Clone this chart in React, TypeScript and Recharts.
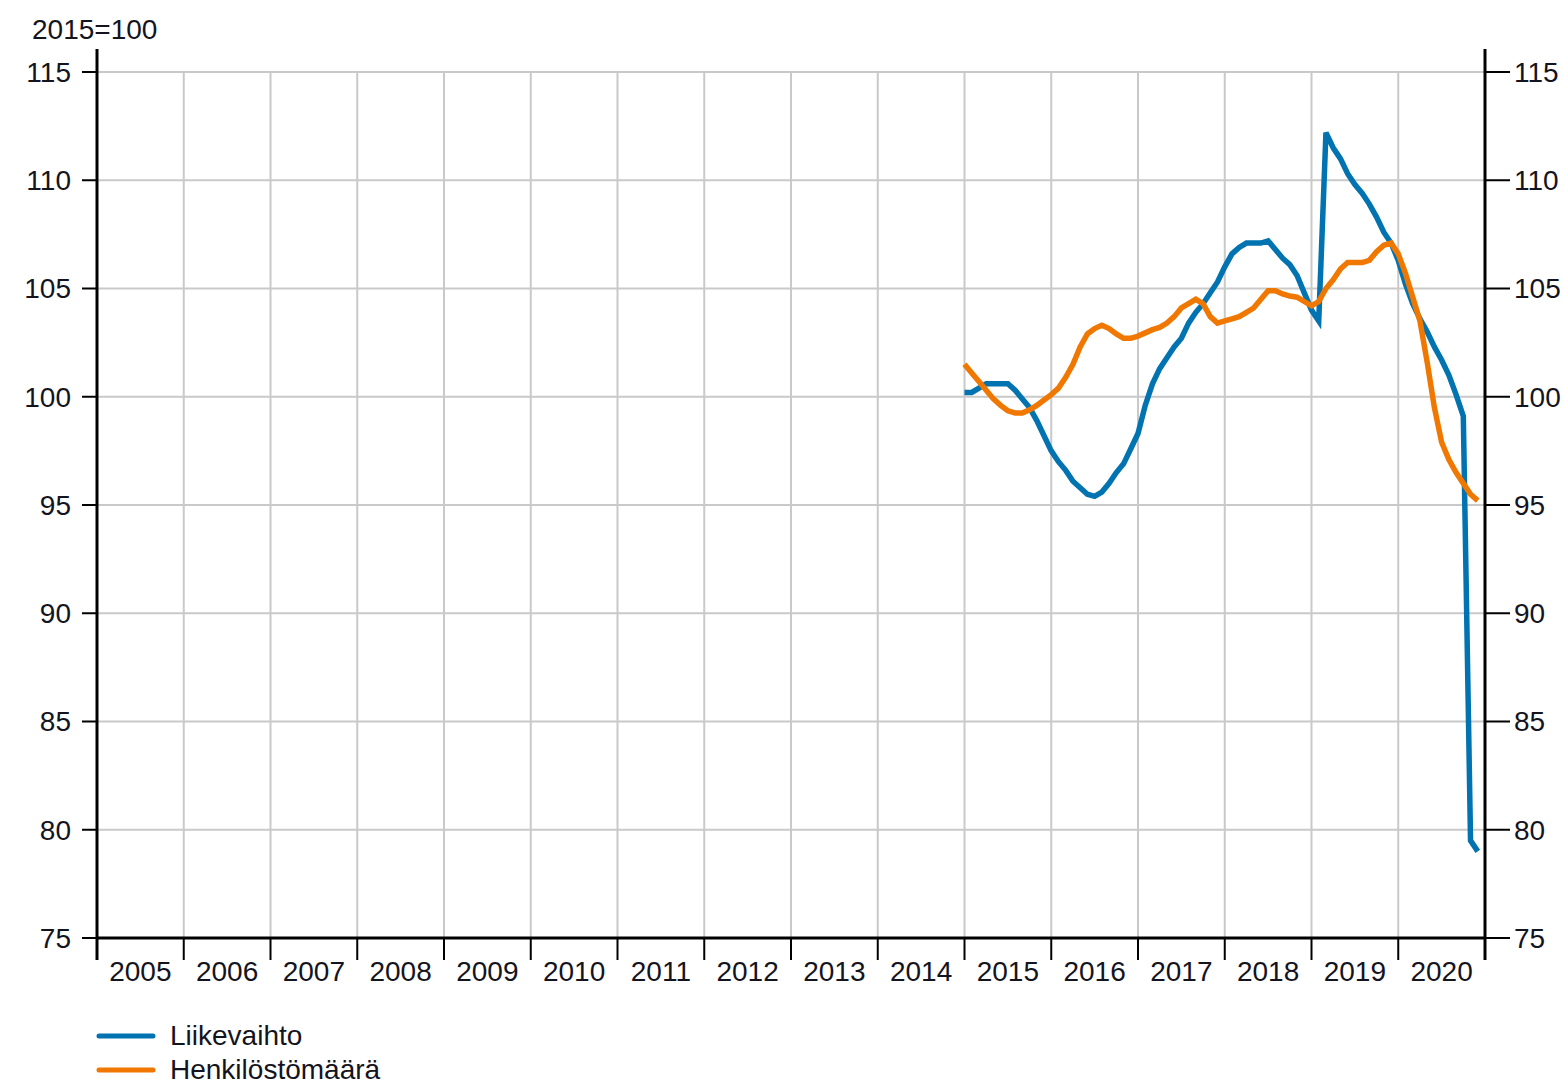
import {
  CartesianGrid,
  Line,
  LineChart,
  ReferenceLine,
  XAxis,
  YAxis
} from "recharts";

// monthly observations 2015M01..2020M12 (index 120 = Jan 2015 on the 2005..2020 month axis)
const months = [
  "2015M01", "2015M02", "2015M03", "2015M04", "2015M05", "2015M06",
  "2015M07", "2015M08", "2015M09", "2015M10", "2015M11", "2015M12",
  "2016M01", "2016M02", "2016M03", "2016M04", "2016M05", "2016M06",
  "2016M07", "2016M08", "2016M09", "2016M10", "2016M11", "2016M12",
  "2017M01", "2017M02", "2017M03", "2017M04", "2017M05", "2017M06",
  "2017M07", "2017M08", "2017M09", "2017M10", "2017M11", "2017M12",
  "2018M01", "2018M02", "2018M03", "2018M04", "2018M05", "2018M06",
  "2018M07", "2018M08", "2018M09", "2018M10", "2018M11", "2018M12",
  "2019M01", "2019M02", "2019M03", "2019M04", "2019M05", "2019M06",
  "2019M07", "2019M08", "2019M09", "2019M10", "2019M11", "2019M12",
  "2020M01", "2020M02", "2020M03", "2020M04", "2020M05", "2020M06",
  "2020M07", "2020M08", "2020M09", "2020M10", "2020M11", "2020M12"
];

const liikevaihto = [
  100.2, 100.2, 100.4, 100.6, 100.6, 100.6, 100.6, 100.3, 99.9, 99.5, 98.9, 98.2,
  97.5, 97.0, 96.6, 96.1, 95.8, 95.5, 95.4, 95.6, 96.0, 96.5, 96.9, 97.6,
  98.3, 99.6, 100.6, 101.3, 101.8, 102.3, 102.7, 103.4, 103.9, 104.3, 104.8, 105.3,
  106.0, 106.6, 106.9, 107.1, 107.1, 107.1, 107.2, 106.8, 106.4, 106.1, 105.6, 104.8,
  104.0, 103.5, 112.2, 111.5, 111.0, 110.3, 109.8, 109.4, 108.9, 108.3, 107.6, 107.1,
  106.3, 105.2, 104.3, 103.6, 103.0, 102.3, 101.7, 101.0, 100.1, 99.1, 79.5, 79.0
];

const henkilostomaara = [
  101.5, 101.1, 100.7, 100.3, 99.9, 99.6, 99.35, 99.25, 99.25, 99.4, 99.6, 99.85,
  100.1, 100.4, 100.9, 101.5, 102.3, 102.9, 103.15, 103.3, 103.15, 102.9, 102.7, 102.7,
  102.8, 102.95, 103.1, 103.2, 103.4, 103.7, 104.1, 104.3, 104.5, 104.3, 103.7, 103.4,
  103.5, 103.6, 103.7, 103.9, 104.1, 104.5, 104.9, 104.9, 104.75, 104.65, 104.6, 104.4,
  104.2, 104.4, 105.0, 105.4, 105.9, 106.2, 106.2, 106.2, 106.3, 106.7, 107.0, 107.1,
  106.6, 105.7, 104.6, 103.5, 101.6, 99.5, 97.9, 97.1, 96.5, 96.0, 95.5, 95.2
];

const yearLabels = [
  "2005", "2006", "2007", "2008", "2009", "2010", "2011", "2012",
  "2013", "2014", "2015", "2016", "2017", "2018", "2019", "2020"
];
const yearTicks = [0, 12, 24, 36, 48, 60, 72, 84, 96, 108, 120, 132, 144, 156, 168, 180, 192];
const valueTicks = [75, 80, 85, 90, 95, 100, 105, 110, 115];
const firstMonthIndex = 120;

const data = months.map((month, i) => ({
  month,
  m: firstMonthIndex + i,
  liikevaihto: liikevaihto[i],
  henkilostomaara: henkilostomaara[i]
}));

const FONT = '"Liberation Sans", Arial, sans-serif';
const TEXT = "#14141e";
const BLUE = "#0073b0";
const ORANGE = "#f07800";
const BAND = 1388 / 16;

// both series share the same 2015=100 scale; the second one is tied to the right axis
const seriesList = [
  { key: "liikevaihto", name: "Liikevaihto", color: BLUE, axis: "left" },
  { key: "henkilostomaara", name: "Henkilöstömäärä", color: ORANGE, axis: "right" }
];

function YearTick(props: any) {
  const { x, y, payload } = props;
  const idx = Math.round(payload.value / 12);
  if (idx >= yearLabels.length) return null;
  return (
    <text x={x + BAND / 2} y={y} dy={19} textAnchor="middle" fill={TEXT} fontSize={28} fontFamily={FONT}>
      {yearLabels[idx]}
    </text>
  );
}

export default function App() {
  return (
    <div style={{ position: "absolute", left: 0, top: 0, width: 1563, height: 1085, background: "#fff" }}>
      <div
        style={{
          position: "absolute",
          left: 32,
          top: 16,
          fontSize: 28,
          lineHeight: "28px",
          fontFamily: FONT,
          color: TEXT
        }}
      >
        2015=100
      </div>
      <LineChart width={1563} height={1085} data={data} margin={{ top: 72, right: 0, left: 0, bottom: 0 }}>
        <CartesianGrid yAxisId="left" stroke="#c9c9c9" strokeWidth={2} />
        <XAxis
          dataKey="m"
          type="number"
          domain={[0, 192]}
          ticks={yearTicks}
          interval={0}
          height={147}
          tick={<YearTick />}
          tickSize={22}
          tickMargin={2}
          tickLine={{ stroke: "#000", strokeWidth: 2 }}
          axisLine={{ stroke: "#000", strokeWidth: 3 }}
        />
        <YAxis
          yAxisId="left"
          domain={[75, 115]}
          ticks={valueTicks}
          interval={0}
          width={97}
          axisLine={false}
          tickSize={15}
          tickMargin={11}
          tickLine={{ stroke: "#000", strokeWidth: 2 }}
          tick={{ fill: TEXT, fontSize: 28, fontFamily: FONT }}
        />
        <YAxis
          yAxisId="right"
          orientation="right"
          domain={[75, 115]}
          ticks={valueTicks}
          interval={0}
          width={78}
          axisLine={false}
          tickSize={25}
          tickMargin={4}
          tickLine={{ stroke: "#000", strokeWidth: 2 }}
          tick={{ fill: TEXT, fontSize: 28, fontFamily: FONT, textAnchor: "start" }}
        />
        {seriesList.map((s) => (
          <Line
            key={s.key}
            yAxisId={s.axis}
            type="linear"
            dataKey={s.key}
            name={s.name}
            stroke={s.color}
            strokeWidth={5.5}
            dot={false}
            isAnimationActive={false}
          />
        ))}
        <ReferenceLine
          yAxisId="left"
          segment={[{ x: 0, y: 73.98 }, { x: 0, y: 116.06 }]}
          stroke="#000"
          strokeWidth={3}
          ifOverflow="visible"
        />
        <ReferenceLine
          yAxisId="left"
          segment={[{ x: 192, y: 73.98 }, { x: 192, y: 116.06 }]}
          stroke="#000"
          strokeWidth={3}
          ifOverflow="visible"
        />
      </LineChart>
      <div style={{ position: "absolute", left: 95, top: 1019 }}>
        {seriesList.map((s) => (
          <div key={s.key} style={{ display: "flex", alignItems: "center", height: 34 }}>
            <svg width={62} height={10}>
              <line x1={4} y1={5} x2={58} y2={5} stroke={s.color} strokeWidth={5} strokeLinecap="round" />
            </svg>
            <span style={{ marginLeft: 13, fontSize: 28, lineHeight: "30px", fontFamily: FONT, color: TEXT }}>
              {s.name}
            </span>
          </div>
        ))}
      </div>
    </div>
  );
}
